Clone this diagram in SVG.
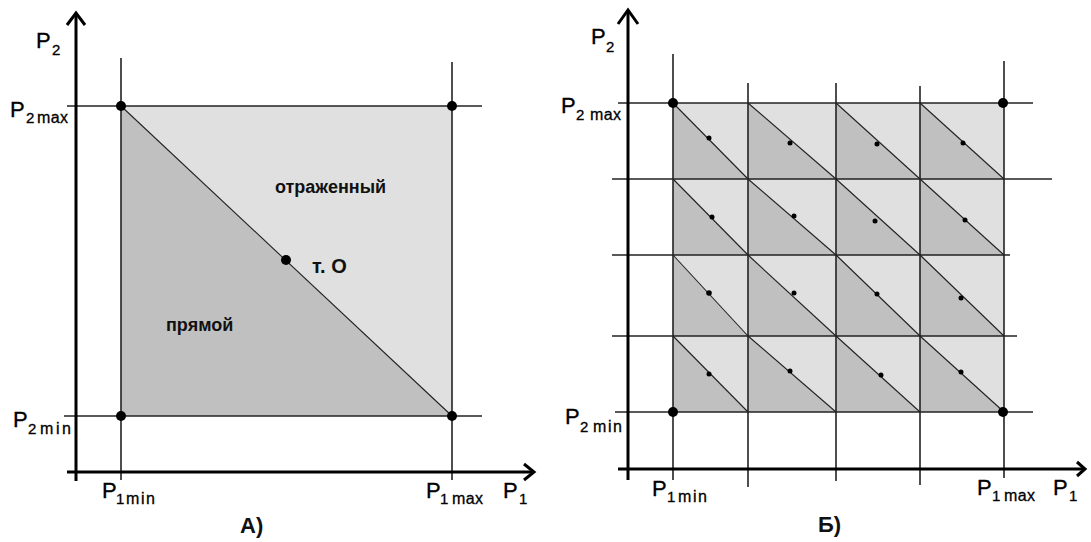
<svg xmlns="http://www.w3.org/2000/svg" width="1091" height="542" viewBox="0 0 1091 542">
<defs>
<style>
.axis{stroke:#000;stroke-width:3;fill:none}
.grid{stroke:#222;stroke-width:1.6;fill:none}
.diag{stroke:#222;stroke-width:1.1;fill:none}
.light{fill:#e0e0e0}
.dark{fill:#c0c0c0}
.big{fill:#000}
.lbl{font-family:"Liberation Sans",Arial,sans-serif;fill:#000;stroke:#000;stroke-width:0.3}
.P{font-size:22px}
.sub{font-size:16px}
.dig{font-size:15px}
.note{font-family:"Liberation Sans",Arial,sans-serif;font-weight:bold;fill:#111}
</style>
</defs>
<rect width="1091" height="542" fill="#fff"/>

<!-- Panel A -->
<g id="panelA">
  <g id="A-regions">
    <rect class="light" x="121" y="106" width="331" height="310"/>
    <polygon class="dark" points="121,106 121,416 452,416"/>
  </g>
  <g id="A-connectors">
    <line class="grid" x1="121" y1="58" x2="121" y2="480"/>
    <line class="grid" x1="452" y1="62" x2="452" y2="480"/>
    <line class="grid" x1="67" y1="106" x2="482" y2="106"/>
    <line class="grid" x1="64" y1="416" x2="482" y2="416"/>
    <line class="diag" x1="121" y1="106" x2="452" y2="416"/>
    <line class="axis" x1="76" y1="13" x2="76" y2="481"/>
    <polyline class="axis" points="67,25 76,13 85,25"/>
    <line class="axis" x1="67" y1="472" x2="534" y2="472"/>
    <polyline class="axis" points="524,464 534,472 524,480"/>
  </g>
  <g id="A-points">
    <circle class="big" cx="121" cy="106" r="5"/>
    <circle class="big" cx="452" cy="106" r="5"/>
    <circle class="big" cx="121" cy="416" r="5"/>
    <circle class="big" cx="452" cy="416" r="5"/>
    <circle class="big" cx="286" cy="260" r="5"/>
  </g>
  <g id="A-labels">
    <text class="lbl P" x="36" y="48">P</text><text class="lbl dig" x="52" y="55">2</text>
    <text class="lbl P" x="10" y="117">P</text><text class="lbl dig" x="26" y="123">2</text><text class="lbl sub" x="37" y="123" textLength="31">max</text>
    <text class="lbl P" x="13" y="427">P</text><text class="lbl dig" x="28" y="434">2</text><text class="lbl sub" x="40" y="434" textLength="31">min</text>
    <text class="lbl P" x="102" y="498">P</text><text class="lbl dig" x="116" y="504">1</text><text class="lbl sub" x="126" y="504" textLength="29">min</text>
    <text class="lbl P" x="426" y="498">P</text><text class="lbl dig" x="440" y="504">1</text><text class="lbl sub" x="452" y="504" textLength="31">max</text>
    <text class="lbl P" x="503" y="498">P</text><text class="lbl dig" x="519" y="504">1</text>
    <text class="note" x="275" y="193" font-size="18">отраженный</text>
    <text class="note" x="312" y="273" font-size="20">т. О</text>
    <text class="note" x="166" y="331" font-size="18">прямой</text>
    <text class="note" x="240" y="533" font-size="22">А)</text>
  </g>
</g>

<!-- Panel B -->
<g id="panelB">
  <g id="B-regions">
    <rect class="light" x="673" y="103" width="331" height="309"/>
    <polygon class="dark" points="673,103 673,179 748,179"/>
    <polygon class="dark" points="748,103 748,179 836,179"/>
    <polygon class="dark" points="836,103 836,179 920,179"/>
    <polygon class="dark" points="920,103 920,179 1004,179"/>
    <polygon class="dark" points="673,179 673,255 748,255"/>
    <polygon class="dark" points="748,179 748,255 836,255"/>
    <polygon class="dark" points="836,179 836,255 920,255"/>
    <polygon class="dark" points="920,179 920,255 1004,255"/>
    <polygon class="dark" points="673,255 673,336 748,336"/>
    <polygon class="dark" points="748,255 748,336 836,336"/>
    <polygon class="dark" points="836,255 836,336 920,336"/>
    <polygon class="dark" points="920,255 920,336 1004,336"/>
    <polygon class="dark" points="673,336 673,412 748,412"/>
    <polygon class="dark" points="748,336 748,412 836,412"/>
    <polygon class="dark" points="836,336 836,412 920,412"/>
    <polygon class="dark" points="920,336 920,412 1004,412"/>
  </g>
  <g id="B-connectors">
    <line class="diag" x1="673" y1="103" x2="748" y2="179"/>
    <line class="diag" x1="748" y1="103" x2="836" y2="179"/>
    <line class="diag" x1="836" y1="103" x2="920" y2="179"/>
    <line class="diag" x1="920" y1="103" x2="1004" y2="179"/>
    <line class="diag" x1="673" y1="179" x2="748" y2="255"/>
    <line class="diag" x1="748" y1="179" x2="836" y2="255"/>
    <line class="diag" x1="836" y1="179" x2="920" y2="255"/>
    <line class="diag" x1="920" y1="179" x2="1004" y2="255"/>
    <line class="diag" x1="673" y1="255" x2="748" y2="336"/>
    <line class="diag" x1="748" y1="255" x2="836" y2="336"/>
    <line class="diag" x1="836" y1="255" x2="920" y2="336"/>
    <line class="diag" x1="920" y1="255" x2="1004" y2="336"/>
    <line class="diag" x1="673" y1="336" x2="748" y2="412"/>
    <line class="diag" x1="748" y1="336" x2="836" y2="412"/>
    <line class="diag" x1="836" y1="336" x2="920" y2="412"/>
    <line class="diag" x1="920" y1="336" x2="1004" y2="412"/>
    <line class="grid" x1="673" y1="54" x2="673" y2="480"/>
    <line class="grid" x1="748" y1="83" x2="748" y2="487"/>
    <line class="grid" x1="836" y1="83" x2="836" y2="481"/>
    <line class="grid" x1="920" y1="86" x2="920" y2="485"/>
    <line class="grid" x1="1004" y1="61" x2="1004" y2="478"/>
    <line class="grid" x1="618" y1="103" x2="1033" y2="103"/>
    <line class="grid" x1="612" y1="179" x2="1052" y2="179"/>
    <line class="grid" x1="612" y1="255" x2="1010" y2="255"/>
    <line class="grid" x1="612" y1="336" x2="1017" y2="336"/>
    <line class="grid" x1="615" y1="412" x2="1033" y2="412"/>
    <line class="axis" x1="628" y1="10" x2="628" y2="480"/>
    <polyline class="axis" points="618,24 628,10 638,24"/>
    <line class="axis" x1="618" y1="469" x2="1085" y2="469"/>
    <polyline class="axis" points="1077,462 1085,469 1077,476"/>
  </g>
  <g id="B-points">
    <circle class="big" cx="673" cy="103" r="5"/>
    <circle class="big" cx="1003" cy="103" r="5"/>
    <circle class="big" cx="673" cy="412" r="5"/>
    <circle class="big" cx="1003" cy="412" r="5"/>
    <circle class="big" cx="709" cy="138" r="2.5"/>
    <circle class="big" cx="790" cy="143" r="2.5"/>
    <circle class="big" cx="877" cy="144" r="2.5"/>
    <circle class="big" cx="963" cy="143" r="2.5"/>
    <circle class="big" cx="712" cy="217" r="2.5"/>
    <circle class="big" cx="794" cy="216" r="2.5"/>
    <circle class="big" cx="875" cy="221" r="2.5"/>
    <circle class="big" cx="965" cy="220" r="2.5"/>
    <circle class="big" cx="709" cy="293" r="2.8"/>
    <circle class="big" cx="794" cy="293" r="2.5"/>
    <circle class="big" cx="877" cy="294" r="2.5"/>
    <circle class="big" cx="961" cy="298" r="2.5"/>
    <circle class="big" cx="709" cy="374" r="2.5"/>
    <circle class="big" cx="790" cy="371" r="2.5"/>
    <circle class="big" cx="881" cy="375" r="2.5"/>
    <circle class="big" cx="961" cy="372" r="2.5"/>
  </g>
  <g id="B-labels">
    <text class="lbl P" x="591" y="44">P</text><text class="lbl dig" x="606" y="52">2</text>
    <text class="lbl P" x="561" y="113">P</text><text class="lbl dig" x="576" y="120">2</text><text class="lbl sub" x="590" y="120" textLength="31">max</text>
    <text class="lbl P" x="565" y="424">P</text><text class="lbl dig" x="580" y="432">2</text><text class="lbl sub" x="593" y="432" textLength="29">min</text>
    <text class="lbl P" x="652" y="496">P</text><text class="lbl dig" x="667" y="502">1</text><text class="lbl sub" x="678" y="502" textLength="29">min</text>
    <text class="lbl P" x="977" y="495">P</text><text class="lbl dig" x="992" y="501">1</text><text class="lbl sub" x="1004" y="501" textLength="31">max</text>
    <text class="lbl P" x="1053" y="495">P</text><text class="lbl dig" x="1069" y="501">1</text>
    <text class="note" x="818" y="532" font-size="22">Б)</text>
  </g>
</g>
</svg>
